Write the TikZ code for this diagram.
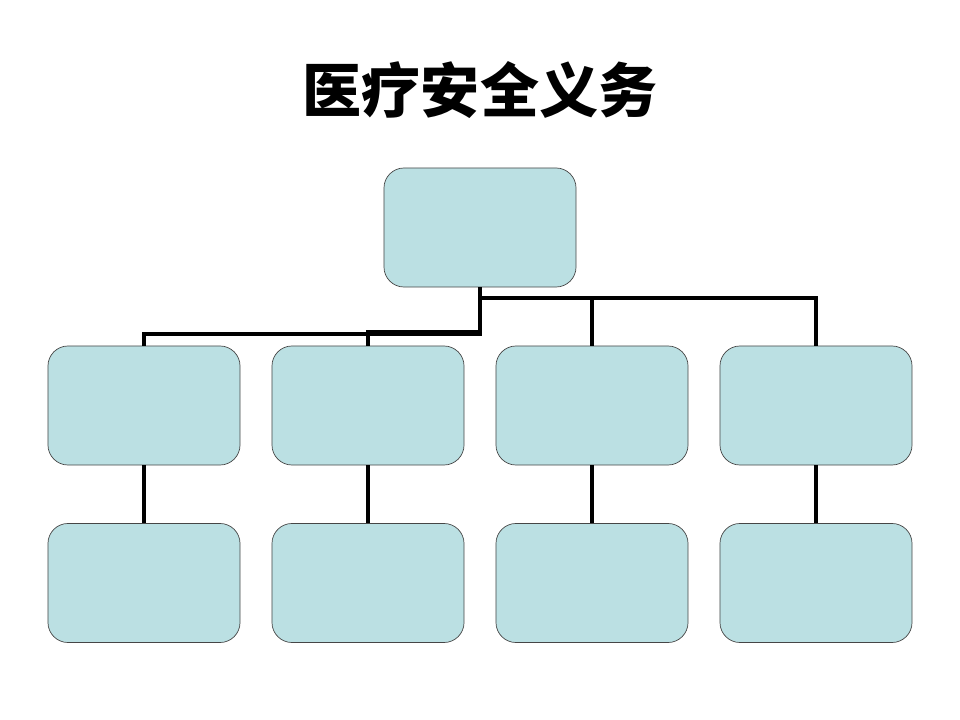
\documentclass[tikz,border=0pt]{standalone}
\usepackage{fontspec}
\newfontfamily\cjk{Noto Sans CJK SC}
\usetikzlibrary{positioning}

\definecolor{boxfill}{RGB}{187,224,227}
\definecolor{boxline}{RGB}{70,70,70}

\begin{document}
\begin{tikzpicture}[x=0.025cm,y=-0.025cm,
  blk/.style={draw=boxline,line width=0.5pt,fill=boxfill,rounded corners=0.5cm,
    minimum width=4.8cm,minimum height=2.975cm,inner sep=0pt},
  link/.style={line width=2.2pt}]
\useasboundingbox (0,0) rectangle (960,720);
\node (title) at (480,90) {\cjk\bfseries\fontsize{42}{48}\selectfont 医疗安全义务};
\node (T) [blk] at (480,227.5) {};
\node (C1) [blk] at (144,405.5) {};
\node (C2) [blk] at (368,405.5) {};
\node (C3) [blk] at (592,405.5) {};
\node (C4) [blk] at (816,405.5) {};
\node (D1) [blk] at (144,583) {};
\node (D2) [blk] at (368,583) {};
\node (D3) [blk] at (592,583) {};
\node (D4) [blk] at (816,583) {};
\coordinate (J) at (480,298);
\coordinate (J2) at (480,332);
\coordinate (J3) at (480,334);
\draw [link] (T.south) -- (J) -| (C4.north);
\draw [link] (J) -| (C3.north);
\draw [link] (J) -- (J2) -| (C2.north);
\draw [link] (J) -- (J3) -| (C1.north);
\draw [link] (C1) -- (D1);
\draw [link] (C2) -- (D2);
\draw [link] (C3) -- (D3);
\draw [link] (C4) -- (D4);
\end{tikzpicture}
\end{document}
